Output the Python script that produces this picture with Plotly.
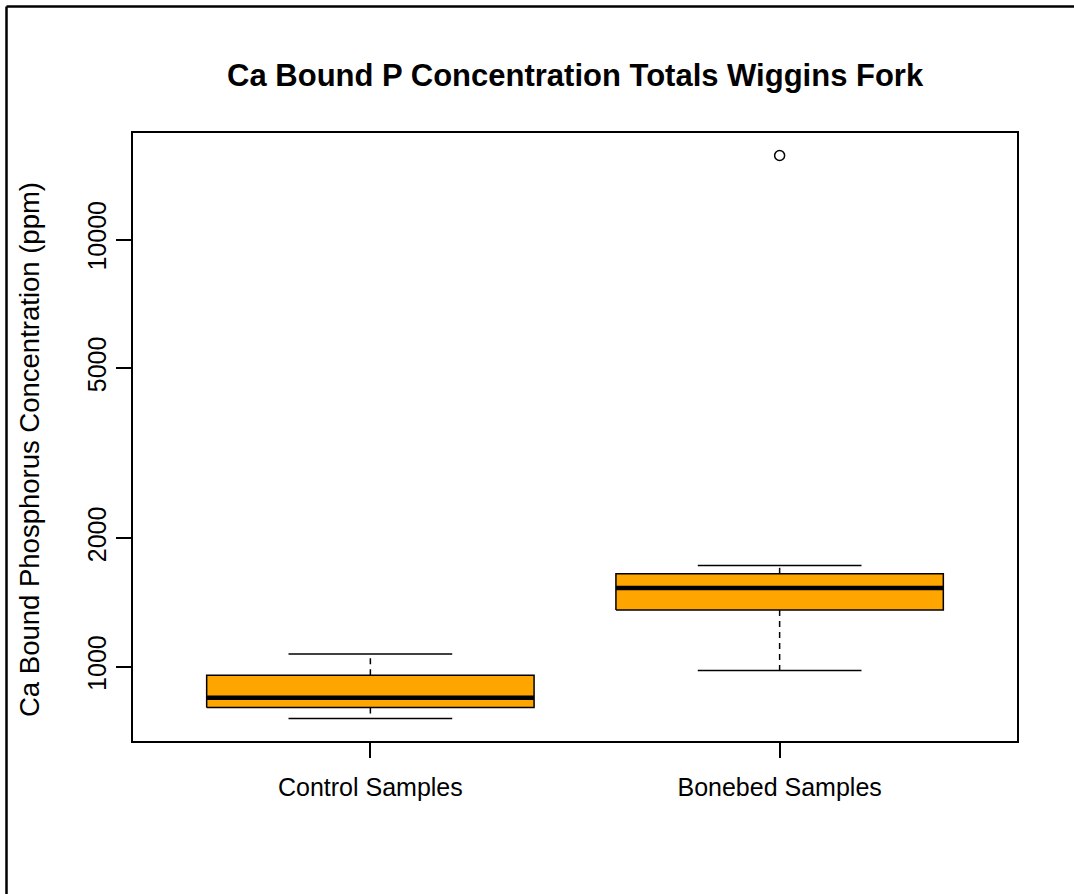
import plotly.graph_objects as go
import math

# Ca bound phosphorus concentrations (ppm), summary statistics per group
groups = ["Control Samples", "Bonebed Samples"]
lower_whisker = [757, 980]
q1 = [803, 1358]
median = [847, 1529]
q3 = [956, 1651]
upper_whisker = [1071, 1727]
outliers = [[], [15730]]

y_ticks = [1000, 2000, 5000, 10000]

FONT = "Liberation Sans, Arial, sans-serif"
BOX_FILL = "#FFA500"
BOX_HALF = 0.4      # boxwex 0.8
CAP_HALF = 0.2      # staple half width

# pixel geometry of the plotting region
L, R, T, B = 133, 1017, 133, 741
W, H = R - L, B - T

fig = go.Figure()

for i, name in enumerate(groups):
    xc = i + 1
    # box body
    fig.add_trace(go.Scatter(
        x=[xc - BOX_HALF, xc + BOX_HALF, xc + BOX_HALF, xc - BOX_HALF, xc - BOX_HALF],
        y=[q1[i], q1[i], q3[i], q3[i], q1[i]],
        mode="lines", fill="toself", fillcolor=BOX_FILL,
        line=dict(color="black", width=1.5), hoverinfo="skip", showlegend=False))
    # median
    fig.add_trace(go.Scatter(
        x=[xc - BOX_HALF, xc + BOX_HALF], y=[median[i], median[i]],
        mode="lines", line=dict(color="black", width=4.5),
        hoverinfo="skip", showlegend=False))
    # dashed whiskers
    for a, b in ((q3[i], upper_whisker[i]), (q1[i], lower_whisker[i])):
        fig.add_trace(go.Scatter(
            x=[xc, xc], y=[a, b], mode="lines",
            line=dict(color="black", width=1.5, dash="6px,5px"),
            hoverinfo="skip", showlegend=False))
    # staples
    for v in (upper_whisker[i], lower_whisker[i]):
        fig.add_trace(go.Scatter(
            x=[xc - CAP_HALF, xc + CAP_HALF], y=[v, v], mode="lines",
            line=dict(color="black", width=1.5),
            hoverinfo="skip", showlegend=False))
    # outliers
    if outliers[i]:
        fig.add_trace(go.Scatter(
            x=[xc] * len(outliers[i]), y=outliers[i], mode="markers",
            marker=dict(symbol="circle-open", size=10, color="black",
                        line=dict(width=1.5)),
            hoverinfo="skip", showlegend=False))

# log range padded by 4% like base graphics
all_vals = lower_whisker + upper_whisker + [v for o in outliers for v in o]
lo, hi = math.log10(min(all_vals)), math.log10(max(all_vals))
pad = 0.04 * (hi - lo)

fig.update_layout(
    width=1074, height=894,
    margin=dict(l=L, r=1074 - R, t=T, b=894 - B),
    paper_bgcolor="white", plot_bgcolor="white",
    font=dict(family=FONT, color="black"),
    title=dict(text="<b>Ca Bound P Concentration Totals Wiggins Fork</b>",
               x=0.5355, xanchor="center", y=1 - 75 / 894, yanchor="middle",
               font=dict(size=31, color="black")),
    xaxis=dict(range=[0.42, 2.58], tickmode="array", tickvals=[1, 2],
               ticktext=groups, ticks="outside", ticklen=15, tickwidth=1.5,
               tickcolor="black", showgrid=False, zeroline=False,
               showline=True, mirror=True, linecolor="black", linewidth=1.5,
               tickfont=dict(size=25), ticklabelstandoff=8),
    yaxis=dict(type="log", range=[lo - pad, hi + pad], tickmode="array",
               tickvals=y_ticks, ticktext=[str(v) for v in y_ticks],
               tickangle=-90, ticks="outside", ticklen=15, tickwidth=1.5,
               tickcolor="black", showgrid=False, zeroline=False,
               showline=True, mirror=True, linecolor="black", linewidth=1.5,
               tickfont=dict(size=25)),
    annotations=[
        dict(text="Ca Bound Phosphorus Concentration (ppm)", textangle=-90,
             xref="paper", yref="paper", x=(30 - L) / W, y=(B - 450) / H,
             xanchor="center", yanchor="middle", showarrow=False,
             font=dict(size=27.5, color="black")),
    ],
    shapes=[
        # outer frame of the graphics device
        dict(type="line", xref="paper", yref="paper",
             x0=(6.5 - L) / W, x1=(1100 - L) / W,
             y0=(B - 6.5) / H, y1=(B - 6.5) / H,
             line=dict(color="black", width=2.5)),
        dict(type="line", xref="paper", yref="paper",
             x0=(6.5 - L) / W, x1=(6.5 - L) / W,
             y0=(B - 6.5) / H, y1=(B - 920) / H,
             line=dict(color="black", width=2.5)),
    ],
)

fig.write_html("out.html")
